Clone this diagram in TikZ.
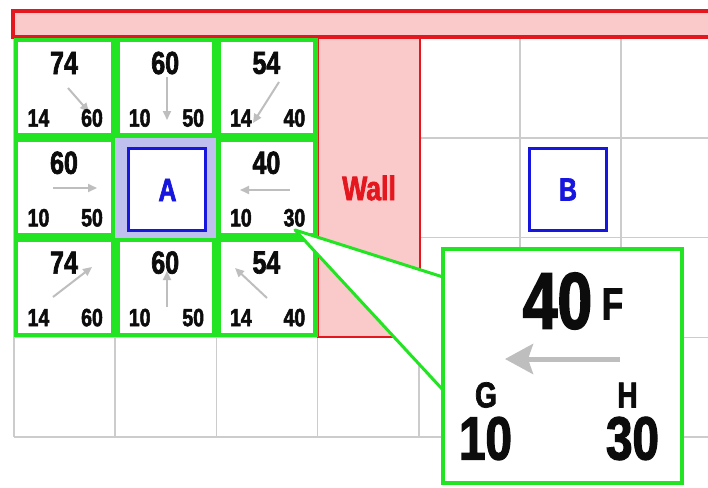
\documentclass[tikz,border=0pt]{standalone}
\usepackage{fontspec}
\setmainfont{Liberation Sans}[FakeStretch=0.78, BoldFeatures={FakeBold=2}]
\usetikzlibrary{arrows.meta}
\definecolor{grn}{RGB}{34,228,34}
\definecolor{wred}{RGB}{228,22,30}
\definecolor{wpink}{RGB}{250,202,202}
\definecolor{lav}{RGB}{192,192,238}
\definecolor{bblue}{RGB}{22,22,222}
\definecolor{agray}{RGB}{190,190,190}
\definecolor{lgray}{RGB}{204,204,204}
\definecolor{ink}{RGB}{12,12,12}
\tikzset{
  gridline/.style={lgray, line width=1.5pt},
  cellbox/.style={grn, line width=4.5pt, fill=white},
  num/.style={inner sep=0pt, text=ink, font=\fontsize{32}{32}\selectfont\bfseries},
  sub/.style={inner sep=0pt, text=ink, font=\fontsize{25}{25}\selectfont\bfseries},
  parr/.style={agray, line width=2pt, -{Triangle[length=9pt,width=8pt]}},
  tbox/.style={draw=bblue, line width=3pt, fill=white, minimum width=77pt, minimum height=82pt, inner sep=0pt},
  tlab/.style={text=bblue, inner sep=0pt, font=\fontsize{32}{32}\selectfont\bfseries},
  big/.style={inner sep=0pt, text=ink, font=\fontsize{#1}{#1}\selectfont\bfseries}
}
\begin{document}
\begin{tikzpicture}[x=1pt,y=-1pt]
\useasboundingbox (0,0) rectangle (708,487);
\clip (0,0) rectangle (708,487);
% grid
\foreach \i in {0,...,7} \draw[gridline] (14+101.2*\i,38) -- (14+101.2*\i,437.2);
\foreach \y in {38,137.8,237.6,337.4,437.2} \draw[gridline] (14,\y) -- (720,\y);
% top wall bar
\draw[wred, line width=3.5pt, fill=wpink] (13,11) rectangle (730,37);
% wall column
\draw[wred, line width=2pt, fill=wpink] (317.6,38) rectangle (419.5,336.5);
\node[text=wred, inner sep=0pt, font=\fontsize{34}{34}\selectfont\bfseries] (wall) at (369,188) {Wall};
% start cell A
\fill[lav] (115.2,137.8) rectangle (216.4,237.6);
% green cells
\foreach \c/\r in {0/0,1/0,2/0,0/1,2/1,0/2,1/2,2/2}
  \draw[cellbox] (14+101.2*\c+2.2,38+99.8*\r+2.2) rectangle (14+101.2*\c+101.2-2.2,38+99.8*\r+99.8-2.2);
\node[tbox] (boxA) at (166.8,189.3) {};
\node[tlab] (A) at (167.5,190) {A};
\node[tbox] (boxB) at (567.5,189.5) {};
\node[tlab] (B) at (568,189.5) {B};
% arrows (parent pointers)
\coordinate (a1s) at (68,88);   \coordinate (a1e) at (89,112);
\coordinate (a2s) at (167,77);  \coordinate (a2e) at (167,120);
\coordinate (a3s) at (279,82);  \coordinate (a3e) at (253,123);
\coordinate (a4s) at (53,188);  \coordinate (a4e) at (97,188);
\coordinate (a5s) at (290,190); \coordinate (a5e) at (240,190);
\coordinate (a6s) at (53,297);  \coordinate (a6e) at (92,267);
\coordinate (a7s) at (167,307); \coordinate (a7e) at (167,271);
\coordinate (a8s) at (267,298); \coordinate (a8e) at (235,268);
\foreach \k in {1,...,8} \draw[parr] (a\k s) -- (a\k e);
% numbers
\foreach \x/\y/\f/\g/\h/\n in {14/38/74/14/60/p1, 115.2/38/60/10/50/p2, 216.4/38/54/14/40/p3,
  14/137.8/60/10/50/p4, 216.4/137.8/40/10/30/p5,
  14/237.6/74/14/60/p6, 115.2/237.6/60/10/50/p7, 216.4/237.6/54/14/40/p8}{
  \node[num] (\n f) at (\x+50,\y+25) {\f};
  \node[sub] (\n g) at (\x+24.5,\y+80) {\g};
  \node[sub] (\n h) at (\x+78,\y+80) {\h};
}
% callout
\coordinate (tip) at (295,230);
\draw[grn, line width=3pt, fill=white, line join=round] (tip) -- (443,277) -- (443,390) -- cycle;
\draw[grn, line width=4pt, fill=white] (443,249) rectangle (682,483);
\node[big=80] (cF) at (557.5,301) {40};
\node[big=45] (lF) at (612.5,304) {F};
\node[big=36] (lG) at (486,395) {G};
\node[big=61] (cG) at (485.5,438.5) {10};
\node[big=36] (lH) at (627.5,395) {H};
\node[big=61] (cH) at (632.5,438.5) {30};
\coordinate (bas) at (620,359); \coordinate (bae) at (505,359);
\draw[agray, line width=5pt, -{Stealth[length=28pt,width=30pt,inset=5pt]}] (bas) -- (bae);
\end{tikzpicture}
\end{document}
